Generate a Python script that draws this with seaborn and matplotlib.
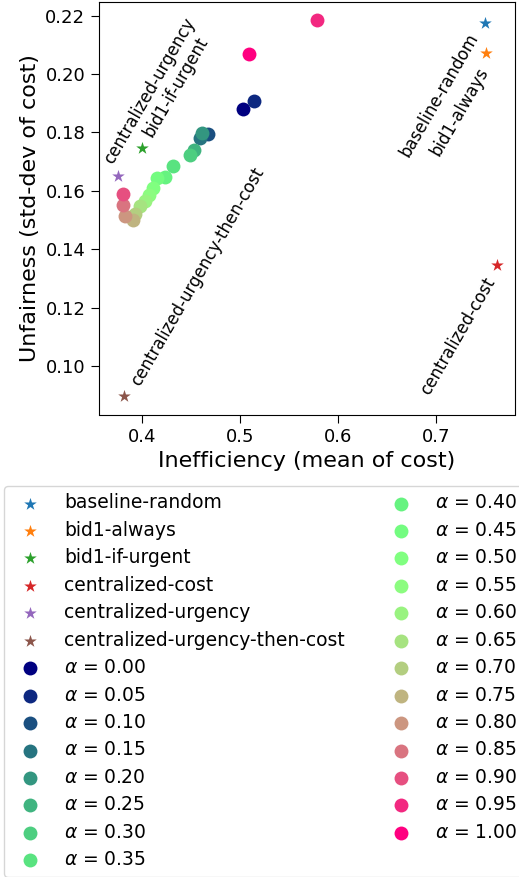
import numpy as np
import matplotlib
matplotlib.use("Agg")
import matplotlib.pyplot as plt
import seaborn as sns

# baseline policies (stars)
policies = ['baseline-random', 'bid1-always', 'bid1-if-urgent', 'centralized-cost',
            'centralized-urgency', 'centralized-urgency-then-cost']
policy_cost_mean = [0.750, 0.751, 0.400, 0.762, 0.375, 0.382]
policy_cost_std = [0.2174, 0.2071, 0.1746, 0.1346, 0.1651, 0.0898]

# alpha sweep (circles)
alphas = [0.00, 0.05, 0.10, 0.15, 0.20, 0.25, 0.30, 0.35, 0.40, 0.45, 0.50,
          0.55, 0.60, 0.65, 0.70, 0.75, 0.80, 0.85, 0.90, 0.95, 1.00]
alpha_cost_mean = [0.5027, 0.5146, 0.4677, 0.4592, 0.4609, 0.4531, 0.4490, 0.4320,
                   0.4235, 0.4153, 0.4107, 0.4071, 0.4026, 0.3980, 0.3929, 0.3911,
                   0.3827, 0.3809, 0.3809, 0.5783, 0.5095]
alpha_cost_std = [0.1880, 0.1909, 0.1795, 0.1780, 0.1799, 0.1740, 0.1723, 0.1685,
                  0.1649, 0.1643, 0.1610, 0.1586, 0.1564, 0.1548, 0.1521, 0.1500,
                  0.1514, 0.1552, 0.1589, 0.2185, 0.2069]

# label offsets (points) and alignment per policy
label_offsets = {
    'baseline-random': (-5, -10, 'right'),
    'bid1-always': (1.5, -13, 'right'),
    'centralized-cost': (-1, -11.5, 'right'),
    'centralized-urgency': (-3.6, 7.9, 'left'),
    'bid1-if-urgent': (7.2, 7.2, 'left'),
    'centralized-urgency-then-cost': (10.8, 6.5, 'left'),
}

fig = plt.figure(figsize=(5.19, 8.77), dpi=100)
ax = fig.add_axes([98.5 / 519, 1 - 414.5 / 877, 416 / 519, 412.5 / 877])

tab = plt.get_cmap('tab10')
for i, name in enumerate(policies):
    sns.scatterplot(x=[policy_cost_mean[i]], y=[policy_cost_std[i]], marker='*',
                    s=90, color=tab(i), linewidth=0, label=name, ax=ax, legend=False)

for i, a in enumerate(alphas):
    col = (a, np.sin(np.pi * a), 0.5)
    sns.scatterplot(x=[alpha_cost_mean[i]], y=[alpha_cost_std[i]], marker='o',
                    s=100, color=col, linewidth=0, label=f'$\\alpha$ = {a:.2f}',
                    ax=ax, legend=False)

for i, name in enumerate(policies):
    dx, dy, ha = label_offsets[name]
    ax.annotate(name, (policy_cost_mean[i], policy_cost_std[i]), xytext=(dx, dy),
                textcoords='offset points', rotation=60, rotation_mode='anchor',
                ha=ha, va='baseline', fontsize=12)

ax.set_xlim(0.3556, 0.7796)
ax.set_ylim(0.0834, 0.2247)
ax.set_xticks([0.4, 0.5, 0.6, 0.7])
ax.set_yticks([0.10, 0.12, 0.14, 0.16, 0.18, 0.20, 0.22])
ax.tick_params(labelsize=13, length=6)
ax.set_xlabel('Inefficiency (mean of cost)', fontsize=16)
ax.set_ylabel('Unfairness (std-dev of cost)', fontsize=16)

ax.legend(ncol=2, fontsize=13.5, loc='upper left', labelspacing=0.45,
          borderaxespad=0,
          bbox_to_anchor=(4 / 519, 1 - 486 / 877), bbox_transform=fig.transFigure)

fig.savefig('out.png', dpi=100)
